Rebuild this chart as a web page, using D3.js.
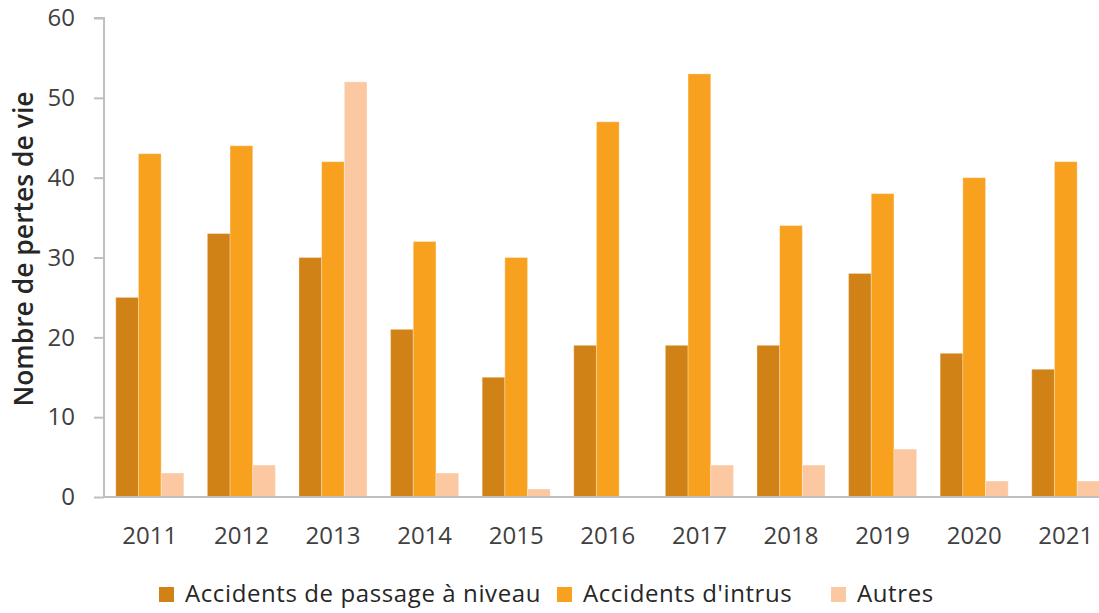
<!DOCTYPE html>
<html><head><meta charset="utf-8">
<script src="https://cdn.jsdelivr.net/npm/d3@7"></script>
<style>body{margin:0;background:#fff;}svg{display:block;font-family:"Open Sans",sans-serif;}</style>
</head><body>
<svg id="c" width="1099" height="613"></svg>
<script>
const years = ["2011","2012","2013","2014","2015","2016","2017","2018","2019","2020","2021"];
const passageNiveau = [25,33,30,21,15,19,19,19,28,18,16];
const intrus = [43,44,42,32,30,47,53,34,38,40,42];
const autres = [3,4,52,3,1,0,4,4,6,2,2];
const seriesNames = ["Accidents de passage à niveau","Accidents d'intrus","Autres"];
const colors = ["#D08217","#F7A11E","#FBC8A2"];
const yTicks = [0,10,20,30,40,50,60];

const svg = d3.select("#c");
const x0 = 104, yBottom = 497, yTop = 18;
const step = 91.6;
const x = d3.scaleBand().domain(years).range([x0, x0 + step*years.length]).paddingInner(0.257).paddingOuter(0.1285);
const x1 = d3.scaleBand().domain([0,1,2]).range([0, x.bandwidth()]);
const y = d3.scaleLinear().domain([0,60]).range([yBottom, yTop]);

const data = [passageNiveau, intrus, autres];
data.forEach((vals, si) => {
  svg.append("g").selectAll("rect").data(years).join("rect")
    .attr("x", d => x(d) + x1(si))
    .attr("width", x1.bandwidth())
    .attr("y", (d,i) => y(vals[i]))
    .attr("height", (d,i) => y(0) - y(vals[i]))
    .attr("fill", colors[si])
    .attr("stroke", "#fff")
    .attr("stroke-opacity", 0.3)
    .attr("stroke-width", 1);
});

// y axis
const yAxis = d3.axisLeft(y).tickValues(yTicks).tickSize(10).tickPadding(19);
const gy = svg.append("g").attr("transform", `translate(${x0},0)`).call(yAxis);
gy.select(".domain").attr("stroke", "#BFBFBF").attr("stroke-width", 2).attr("d", `M-10,${yTop}H0V${yBottom}`);
gy.selectAll(".tick line").attr("stroke", "#BFBFBF").attr("stroke-width", 2);
gy.selectAll(".tick text").attr("fill", "#404040").style("font-size", "24px").style("font-family", "Open Sans");

// x axis
const xAxis = d3.axisBottom(x).tickSize(0).tickPadding(30);
const gx = svg.append("g").attr("transform", `translate(0,${yBottom})`).call(xAxis);
gx.select(".domain").attr("stroke", "#BFBFBF").attr("stroke-width", 2).attr("d", `M${x0},0H1099`);
gx.selectAll(".tick text").attr("fill", "#404040").style("font-size", "24px").style("font-family", "Open Sans");

// y title
svg.append("text").attr("transform", "translate(33,249) rotate(-90)")
  .attr("text-anchor", "middle").attr("fill", "#262626")
  .style("font-size", "26.5px").style("font-weight", "600")
  .text("Nombre de pertes de vie");

// legend
const legendX = [185, 583, 857];
seriesNames.forEach((n, i) => {
  const g = svg.append("g").attr("transform", `translate(${legendX[i]},602)`);
  g.append("rect").attr("x", -26).attr("y", -15).attr("width", 15).attr("height", 15).attr("fill", colors[i]);
  g.append("text").attr("x", 0).attr("y", 0).attr("fill", "#262626")
    .style("font-size", "24px").style("letter-spacing", "0.6px").text(n);
});
</script>
</body></html>
